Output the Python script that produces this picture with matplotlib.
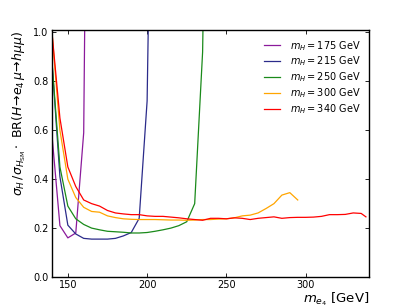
import matplotlib
matplotlib.use("Agg")
import matplotlib.pyplot as plt

# Data
x_175 = [140, 145, 150, 155, 160, 165]
y_175 = [0.58, 0.21, 0.16, 0.18, 0.59, 4.0]

x_215 = [140, 145, 150, 155, 160, 165, 170, 175, 180, 185, 190, 195, 200, 205]
y_215 = [0.88, 0.41, 0.212, 0.176, 0.158, 0.155, 0.155, 0.155, 0.158, 0.168, 0.182, 0.24, 0.72, 2.8]

x_250 = [140, 145, 150, 155, 160, 165, 170, 175, 180, 185, 190, 195, 200,
         205, 210, 215, 220, 225, 230, 235, 240]
y_250 = [0.88, 0.45, 0.29, 0.238, 0.215, 0.2, 0.193, 0.187, 0.185, 0.183, 0.18, 0.18, 0.182,
         0.187, 0.193, 0.2, 0.21, 0.226, 0.30, 0.92, 3.0]

x_300 = [140, 145, 150, 155, 160, 165, 170, 175, 180, 185, 190, 195, 200, 205, 210, 215,
         220, 225, 230, 235, 240, 245, 250, 255, 260, 265, 270, 275, 280, 285, 290, 295]
y_300 = [1.0, 0.6, 0.40, 0.325, 0.285, 0.268, 0.265, 0.25, 0.243, 0.238, 0.236, 0.235, 0.235, 0.235, 0.234, 0.233,
         0.233, 0.232, 0.233, 0.235, 0.235, 0.237, 0.238, 0.242, 0.25, 0.253, 0.262, 0.28, 0.30, 0.335, 0.345, 0.315]

x_340 = [140, 145, 150, 155, 160, 165, 170, 175, 180, 185, 190, 195, 200, 205, 210, 215,
         220, 225, 230, 235, 240, 245, 250, 255, 260, 265, 270, 275, 280, 285, 290, 295,
         300, 305, 310, 315, 320, 325, 330, 335, 338]
y_340 = [1.0, 0.65, 0.45, 0.37, 0.315, 0.30, 0.29, 0.272, 0.262, 0.258, 0.255, 0.255, 0.25, 0.248, 0.248, 0.245,
         0.242, 0.238, 0.235, 0.232, 0.24, 0.24, 0.238, 0.242, 0.24, 0.235, 0.24, 0.243, 0.246, 0.24, 0.243, 0.244,
         0.244, 0.245, 0.248, 0.255, 0.255, 0.256, 0.262, 0.26, 0.246]

labels = [r'$m_H=175$ GeV', r'$m_H=215$ GeV', r'$m_H=250$ GeV', r'$m_H=300$ GeV', r'$m_H=340$ GeV']
colors = ['#8b1a9b', '#2b2b8a', '#1a8a1a', '#ffa500', '#ff0000']

fig = plt.figure(figsize=(4.11, 3.08), dpi=100)
ax = fig.add_axes([0.1265, 0.1006, 0.7715, 0.802])

for xs, ys, lab, c in zip([x_175, x_215, x_250, x_300, x_340],
                          [y_175, y_215, y_250, y_300, y_340], labels, colors):
    ax.plot(xs, ys, color=c, lw=0.9, label=lab)

ax.set_xlim(140, 340)
ax.set_ylim(0, 1.01)
ax.set_xticks([150, 200, 250, 300])
ax.set_yticks([0.0, 0.2, 0.4, 0.6, 0.8, 1.0])
ax.set_yticklabels(['0.0', '0.2', '0.4', '0.6', '0.8', '1.0'])
ax.tick_params(direction='in', top=True, right=True, labelsize=7, length=3, width=0.6, pad=2.5)
for s in ax.spines.values():
    s.set_linewidth(1.0)

ax.set_xlabel(r'$m_{e_4}$ [GeV]', fontsize=9.5, loc='right', labelpad=0)
ax.set_ylabel(r'$\sigma_H\,/\sigma_{H_{\rm SM}}\cdot$ BR$(H\!\to\! e_4\,\mu\!\to\! h\mu\mu)$',
              fontsize=9, loc='top', labelpad=4)

ax.legend(loc='upper right', frameon=False, fontsize=7, handlelength=1.6,
          handletextpad=1.0, borderaxespad=0.5, labelspacing=0.22)

fig.savefig('out.png', dpi=100)
